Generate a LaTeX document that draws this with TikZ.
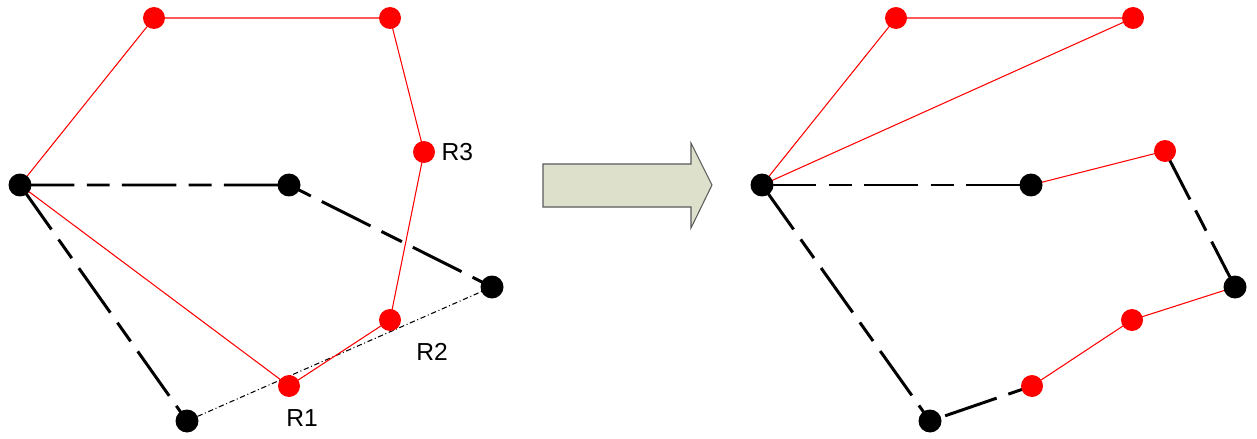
\documentclass[tikz,border=0pt]{standalone}
\usepackage{fontspec}
\setmainfont{Liberation Sans}
\usetikzlibrary{backgrounds}

\definecolor{arrowfill}{RGB}{221,224,203}
\definecolor{arrowline}{RGB}{90,90,90}

\begin{document}
\begin{tikzpicture}[x=0.02cm,y=-0.02cm,
  blk/.style={circle,fill=black,inner sep=0pt,minimum size=0.46cm},
  rd/.style={circle,fill=red,inner sep=0pt,minimum size=0.44cm},
  lnk/.style={line width=1.7pt,dash pattern=on 31pt off 7pt on 13pt off 7pt},
  rlnk/.style={red,line width=0.6pt},
  lbl/.style={font=\fontsize{14}{16}\selectfont}]
  \useasboundingbox (0,0) rectangle (1257,439);

  % before
  \node[blk] (a) at (20,185) {};
  \node[blk] (b) at (289,185) {};
  \node[blk] (c) at (492,287) {};
  \node[blk] (d) at (187,421) {};
  \node[rd] (p) at (154,18) {};
  \node[rd] (q) at (390,18) {};
  \node[rd] (r3) at (424,152) {};
  \node[rd] (r2) at (390,320) {};
  \node[rd] (r1) at (289,386) {};
  \node[lbl,anchor=west] at (r3.east) {R3};
  \node[lbl] at (432,352) {R2};
  \node[lbl] at (302,418) {R1};
  \begin{scope}[on background layer]
    \draw[lnk] (a.center) -- (b.center) -- (c.center);
    \draw[lnk] (a.center) -- (d.center);
    \draw[line width=0.6pt,dash pattern=on 3pt off 1.5pt on 0.6pt off 1.5pt] (d.center) -- (c.center);
    \draw[rlnk] (a.center) -- (p.center) -- (q.center) -- (r3.center) -- (r2.center) -- (r1.center) -- (a.center);
  \end{scope}

  % block arrow
  \draw[arrowline,fill=arrowfill,line width=0.6pt] (543,164) -- (691,164) -- (691,143) -- (712,185)
    -- (691,228) -- (691,207) -- (543,207) -- cycle;

  % after
  \node[blk] (a2) at (762,185) {};
  \node[blk] (b2) at (1031,185) {};
  \node[blk] (c2) at (1235,287) {};
  \node[blk] (d2) at (930,421) {};
  \node[rd] (p2) at (896,18) {};
  \node[rd] (q2) at (1133,18) {};
  \node[rd] (s2) at (1165,151) {};
  \node[rd] (t2) at (1132,320) {};
  \node[rd] (u2) at (1032,386) {};
  \begin{scope}[on background layer]
    \draw[lnk] (a2.center) -- (b2.center);
    \draw[lnk] (s2.center) -- (c2.center);
    \draw[lnk] (a2.center) -- (d2.center) -- (u2.center);
    \draw[rlnk] (a2.center) -- (p2.center) -- (q2.center) -- (a2.center);
    \draw[rlnk] (b2.center) -- (s2.center);
    \draw[rlnk] (c2.center) -- (t2.center) -- (u2.center);
  \end{scope}
\end{tikzpicture}
\end{document}
